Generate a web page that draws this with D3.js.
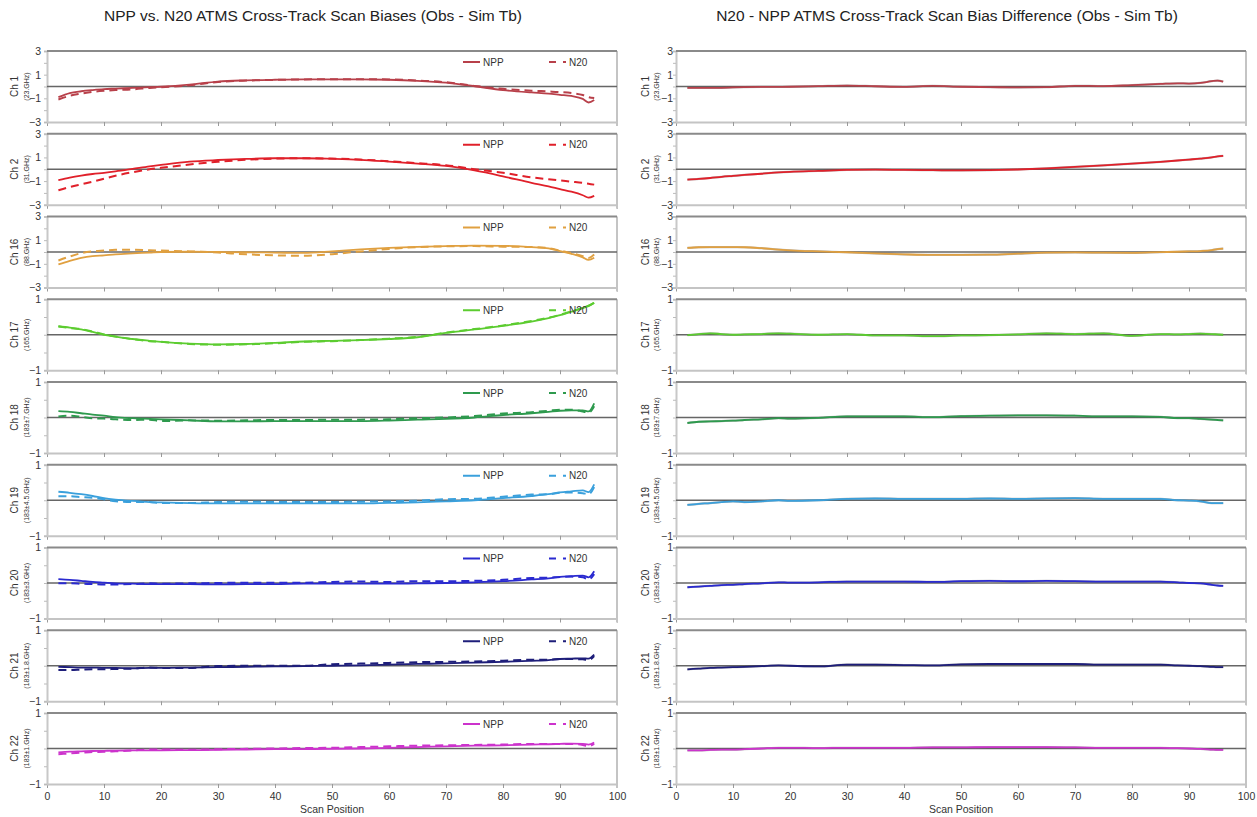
<!DOCTYPE html>
<html><head><meta charset="utf-8">
<script src="https://cdn.jsdelivr.net/npm/d3@7"></script>
<style>body{margin:0;background:#fff}text{font-family:"Liberation Sans",Arial,sans-serif}</style>
</head><body><svg id="c" width="1257" height="817"></svg>
<script>
const positions=[2,4,6,8,10,12,15,18,20,25,30,35,40,45,50,55,60,65,70,75,80,85,88,90,92,94,95,96];
const channels=["Ch 1","Ch 2","Ch 16","Ch 17","Ch 18","Ch 19","Ch 20","Ch 21","Ch 22"];
const freqs=["(23.GHz)","(31.GHz)","(88.GHz)","(165.GHz)","(183±7.GHz)","(183±4.5.GHz)","(183±3.GHz)","(183±1.8.GHz)","(183±1.GHz)"];
const yLimits=[3,3,3,1,1,1,1,1,1];
const xTicks=[0,10,20,30,40,50,60,70,80,90,100];
const legendNames=["NPP","N20"];
const titles=["NPP vs. N20 ATMS Cross-Track Scan Biases (Obs - Sim Tb)","N20 - NPP ATMS Cross-Track Scan Bias Difference (Obs - Sim Tb)"];
const colors=["#b8404a","#e0202a","#e0a040","#5ccc30","#2e9a4e","#3aa0dc","#2a2ad0","#1e1e7a","#cc33cc"];

const npp1=[-0.9,-0.55,-0.4,-0.3,-0.22,-0.18,-0.12,-0.06,-0.02,0.15,0.42,0.52,0.57,0.6,0.6,0.6,0.57,0.48,0.32,0.02,-0.3,-0.5,-0.6,-0.7,-0.8,-1.05,-1.35,-1.15];
const n201=[-1.1,-0.78,-0.6,-0.45,-0.36,-0.3,-0.24,-0.12,-0.06,0.1,0.38,0.5,0.56,0.6,0.62,0.62,0.6,0.5,0.36,0.05,-0.2,-0.35,-0.42,-0.47,-0.55,-0.72,-0.9,-0.98];
const npp2=[-0.93,-0.7,-0.53,-0.4,-0.3,-0.18,0.03,0.25,0.37,0.64,0.78,0.88,0.93,0.93,0.88,0.8,0.65,0.48,0.28,-0.1,-0.6,-1.15,-1.45,-1.68,-1.9,-2.2,-2.4,-2.25];
const n202=[-1.78,-1.5,-1.27,-1.05,-0.8,-0.55,-0.25,0.0,0.12,0.4,0.63,0.8,0.9,0.93,0.9,0.82,0.68,0.52,0.34,0.0,-0.3,-0.68,-0.85,-0.95,-1.05,-1.15,-1.22,-1.3];
const npp16=[-1.05,-0.75,-0.5,-0.35,-0.28,-0.2,-0.12,-0.05,0.0,0.02,0.0,-0.02,-0.05,-0.08,0.05,0.22,0.35,0.44,0.5,0.54,0.52,0.42,0.3,0.08,-0.15,-0.45,-0.67,-0.48];
const n2016=[-0.72,-0.38,-0.1,0.05,0.12,0.18,0.2,0.15,0.12,0.05,-0.05,-0.2,-0.28,-0.32,-0.18,0.05,0.25,0.42,0.48,0.5,0.45,0.42,0.32,0.12,-0.1,-0.35,-0.5,-0.22];
const npp17=[0.24,0.2,0.15,0.08,0.0,-0.05,-0.12,-0.17,-0.2,-0.25,-0.27,-0.26,-0.23,-0.19,-0.17,-0.15,-0.12,-0.07,0.05,0.15,0.25,0.37,0.47,0.55,0.65,0.75,0.82,0.9];
const n2017=[0.23,0.19,0.16,0.09,0.01,-0.05,-0.12,-0.18,-0.2,-0.26,-0.28,-0.27,-0.24,-0.2,-0.18,-0.15,-0.11,-0.06,0.06,0.16,0.26,0.39,0.48,0.56,0.66,0.76,0.81,0.9];
const npp18=[0.18,0.16,0.12,0.08,0.05,0.01,-0.02,-0.04,-0.05,-0.08,-0.11,-0.11,-0.1,-0.1,-0.1,-0.1,-0.085,-0.06,-0.04,0.0,0.07,0.12,0.16,0.19,0.2,0.2,0.17,0.4];
const n2018=[0.03,0.05,0.02,-0.02,-0.03,-0.05,-0.07,-0.06,-0.1,-0.08,-0.09,-0.08,-0.07,-0.07,-0.06,-0.06,-0.05,-0.02,0.0,0.04,0.11,0.15,0.19,0.22,0.22,0.17,0.14,0.32];
const npp19=[0.24,0.21,0.17,0.12,0.06,0.02,-0.02,-0.05,-0.06,-0.08,-0.09,-0.09,-0.09,-0.09,-0.09,-0.09,-0.075,-0.06,-0.03,0.0,0.06,0.12,0.17,0.22,0.25,0.28,0.23,0.45];
const n2019=[0.11,0.11,0.09,0.07,0.03,-0.03,-0.05,-0.05,-0.08,-0.08,-0.05,-0.04,-0.05,-0.05,-0.05,-0.04,-0.035,-0.01,0.03,0.04,0.1,0.16,0.17,0.21,0.22,0.2,0.17,0.37];
const npp20=[0.11,0.09,0.06,0.03,0.01,-0.01,-0.02,-0.03,-0.03,-0.03,-0.04,-0.03,-0.03,-0.02,-0.02,-0.02,-0.02,-0.01,0.0,0.02,0.05,0.1,0.13,0.17,0.19,0.21,0.16,0.33];
const n2020=[-0.01,-0.01,-0.02,-0.03,-0.04,-0.04,-0.03,-0.01,-0.02,-0.01,0.0,0.01,0.01,0.01,0.03,0.04,0.03,0.05,0.05,0.06,0.09,0.14,0.15,0.17,0.18,0.16,0.1,0.25];
const npp21=[-0.03,-0.04,-0.05,-0.05,-0.06,-0.06,-0.07,-0.06,-0.06,-0.05,-0.04,-0.03,-0.02,-0.01,0.0,0.01,0.03,0.05,0.065,0.09,0.11,0.14,0.16,0.19,0.2,0.21,0.2,0.31];
const n2021=[-0.12,-0.12,-0.11,-0.1,-0.1,-0.09,-0.08,-0.05,-0.06,-0.06,-0.01,0.0,0.0,0.0,0.04,0.06,0.08,0.1,0.11,0.12,0.14,0.17,0.17,0.19,0.19,0.18,0.16,0.27];
const npp22=[-0.11,-0.09,-0.08,-0.07,-0.065,-0.06,-0.055,-0.05,-0.05,-0.045,-0.04,-0.03,-0.02,-0.015,-0.01,0.0,0.02,0.04,0.06,0.08,0.09,0.11,0.12,0.13,0.14,0.13,0.11,0.17];
const n2022=[-0.16,-0.14,-0.12,-0.1,-0.095,-0.08,-0.055,-0.03,-0.03,-0.035,-0.02,-0.01,0.0,0.015,0.02,0.04,0.06,0.08,0.09,0.1,0.11,0.13,0.13,0.13,0.13,0.1,0.07,0.13];

const diff1=[-0.11,-0.12,-0.12,-0.11,-0.08,-0.06,-0.04,-0.03,-0.02,0.03,0.08,0.02,-0.03,0.05,-0.02,-0.05,-0.08,-0.06,0.06,0.03,0.12,0.22,0.27,0.25,0.3,0.45,0.5,0.42];
const diff2=[-0.88,-0.82,-0.74,-0.64,-0.56,-0.48,-0.38,-0.27,-0.22,-0.14,-0.06,-0.03,-0.06,-0.08,-0.1,-0.08,-0.02,0.08,0.2,0.33,0.47,0.63,0.74,0.82,0.9,1.0,1.08,1.13];
const diff16=[0.34,0.4,0.42,0.42,0.41,0.4,0.32,0.2,0.14,0.05,-0.02,-0.12,-0.2,-0.25,-0.25,-0.23,-0.14,-0.06,-0.03,-0.06,-0.07,-0.01,0.02,0.05,0.08,0.15,0.25,0.28];
const diff17=[-0.01,0.02,0.04,0.02,0.0,0.01,0.02,0.04,0.03,0.0,0.02,-0.02,-0.02,-0.04,-0.02,-0.01,0.01,0.04,0.02,0.04,-0.03,0.02,0.01,0.02,0.03,0.02,0.01,0.0];
const diff18=[-0.155,-0.12,-0.11,-0.1,-0.09,-0.07,-0.05,-0.02,-0.03,-0.01,0.03,0.03,0.03,0.01,0.04,0.05,0.06,0.06,0.05,0.03,0.03,0.02,-0.02,-0.02,-0.04,-0.06,-0.07,-0.08];
const diff19=[-0.13,-0.1,-0.08,-0.05,-0.03,-0.05,-0.03,0.0,-0.02,0.0,0.04,0.05,0.04,0.04,0.04,0.05,0.04,0.05,0.06,0.04,0.04,0.04,0.0,-0.01,-0.03,-0.08,-0.08,-0.08];
const diff20=[-0.12,-0.1,-0.08,-0.06,-0.05,-0.03,-0.01,0.02,0.01,0.02,0.04,0.04,0.04,0.03,0.05,0.06,0.05,0.06,0.05,0.04,0.04,0.04,0.02,0.0,-0.01,-0.05,-0.07,-0.08];
const diff21=[-0.1,-0.08,-0.06,-0.05,-0.04,-0.03,-0.01,0.01,0.0,-0.02,0.03,0.03,0.02,0.01,0.04,0.05,0.05,0.05,0.05,0.03,0.03,0.03,0.01,0.0,-0.01,-0.03,-0.04,-0.04];
const diff22=[-0.05,-0.05,-0.04,-0.03,-0.03,-0.02,0.0,0.02,0.02,0.01,0.02,0.02,0.02,0.03,0.03,0.04,0.04,0.04,0.03,0.02,0.02,0.02,0.01,0.0,-0.01,-0.03,-0.04,-0.04];

const nppSeries=[npp1,npp2,npp16,npp17,npp18,npp19,npp20,npp21,npp22];
const n20Series=[n201,n202,n2016,n2017,n2018,n2019,n2020,n2021,n2022];
const diffSeries=[diff1,diff2,diff16,diff17,diff18,diff19,diff20,diff21,diff22];

const svg=d3.select("#c");
const sides=[{x0:47,x1:617},{x0:676,x1:1246}];
const panelTop0=51, pitch=82.75, ph=71;

sides.forEach((s,si)=>{
  const x=d3.scaleLinear().domain([0,100]).range([s.x0,s.x1]);
  svg.append("text").attr("x",(s.x0+s.x1)/2-(si?-(-14):19)).attr("y",21).attr("text-anchor","middle")
    .attr("font-size",15.5).attr("fill","#222").text(titles[si]);
  channels.forEach((ch,i)=>{
    const top=panelTop0+i*pitch, bot=top+ph, m=yLimits[i];
    const y=d3.scaleLinear().domain([-m,m]).range([bot,top]);
    const g=svg.append("g");
    // bottom axis
    const ax=d3.axisBottom(x).tickValues(xTicks).tickSize(4).tickSizeOuter(0)
      .tickFormat(i===channels.length-1?d3.format("d"):"");
    const ga=g.append("g").attr("transform",`translate(0,${bot})`).call(ax);
    ga.select(".domain").attr("stroke","#c4c4c4").attr("stroke-width",2);
    ga.selectAll(".tick line").attr("stroke","#999");
    ga.selectAll(".tick text").attr("font-size",10.5).attr("fill","#333").attr("dy","0.9em")
      .attr("font-family","Liberation Sans, Arial, sans-serif");
    // left axis
    const minor=m===3?[-3,-2,-1,0,1,2,3]:[-1,-0.5,0,0.5,1];
    const gm=g.append("g").attr("transform",`translate(${s.x0},0)`)
      .call(d3.axisLeft(y).tickValues(minor).tickSize(3).tickFormat(""));
    gm.select(".domain").attr("stroke","#c8c8c8").attr("stroke-width",2);
    gm.selectAll(".tick line").attr("stroke","#bbb");
    const gl=g.append("g").attr("transform",`translate(${s.x0},0)`)
      .call(d3.axisLeft(y).tickValues(m===3?[3,1,-1,-3]:[1,-1]).tickSize(0).tickPadding(si?3:6).tickFormat(d3.format("d")));
    gl.select(".domain").remove();
    gl.selectAll("text").attr("font-size",10.5).attr("fill","#333").attr("font-family","Liberation Sans, Arial, sans-serif");
    // right border
    g.append("line").attr("x1",s.x1).attr("x2",s.x1).attr("y1",top).attr("y2",bot+4).attr("stroke","#c4c4c4").attr("stroke-width",2);
    // top border
    g.append("line").attr("x1",s.x0).attr("x2",s.x1).attr("y1",top).attr("y2",top).attr("stroke","#8a8a8a").attr("stroke-width",2);
    // zero line
    g.append("line").attr("x1",s.x0).attr("x2",s.x1).attr("y1",y(0)).attr("y2",y(0)).attr("stroke","#666").attr("stroke-width",1.5);
    // channel labels
    g.append("text").attr("transform",`translate(${s.x0-(si?27:29)},${y(0)}) rotate(-90)`).attr("text-anchor","middle")
      .attr("font-size",10).attr("fill","#333").text(ch);
    g.append("text").attr("transform",`translate(${s.x0-(si?17:18)},${y(0)}) rotate(-90)`).attr("text-anchor","middle")
      .attr("font-size",7).attr("fill","#333").text(freqs[i]);
    const line=d3.line().x((d,k)=>x(positions[k])).y(d=>y(d)).curve(d3.curveMonotoneX);
    if(si===0){
      g.append("path").datum(n20Series[i]).attr("d",line).attr("fill","none").attr("stroke",colors[i])
        .attr("stroke-width",2).attr("stroke-dasharray","8,5");
      g.append("path").datum(nppSeries[i]).attr("d",line).attr("fill","none").attr("stroke",colors[i])
        .attr("stroke-width",1.8);
      // legend
      const ly=top+11;
      g.append("line").attr("x1",463).attr("x2",480).attr("y1",ly).attr("y2",ly).attr("stroke",colors[i]).attr("stroke-width",2);
      g.append("text").attr("x",483).attr("y",ly+3.5).attr("font-size",10).attr("fill","#333").text(legendNames[0]);
      g.append("line").attr("x1",549).attr("x2",566).attr("y1",ly).attr("y2",ly).attr("stroke",colors[i]).attr("stroke-width",2).attr("stroke-dasharray","7,7,3");
      g.append("text").attr("x",569).attr("y",ly+3.5).attr("font-size",10).attr("fill","#333").text(legendNames[1]);
    } else {
      g.append("path").datum(diffSeries[i]).attr("d",line).attr("fill","none").attr("stroke","#333")
        .attr("stroke-width",2.2).attr("opacity",0.35);
      g.append("path").datum(diffSeries[i]).attr("d",line).attr("fill","none").attr("stroke",colors[i])
        .attr("stroke-width",1.8);
    }
  });
  svg.append("text").attr("x",(s.x0+s.x1)/2).attr("y",813).attr("text-anchor","middle")
    .attr("font-size",10.5).attr("fill","#333").text("Scan Position");
});
</script></body></html>
